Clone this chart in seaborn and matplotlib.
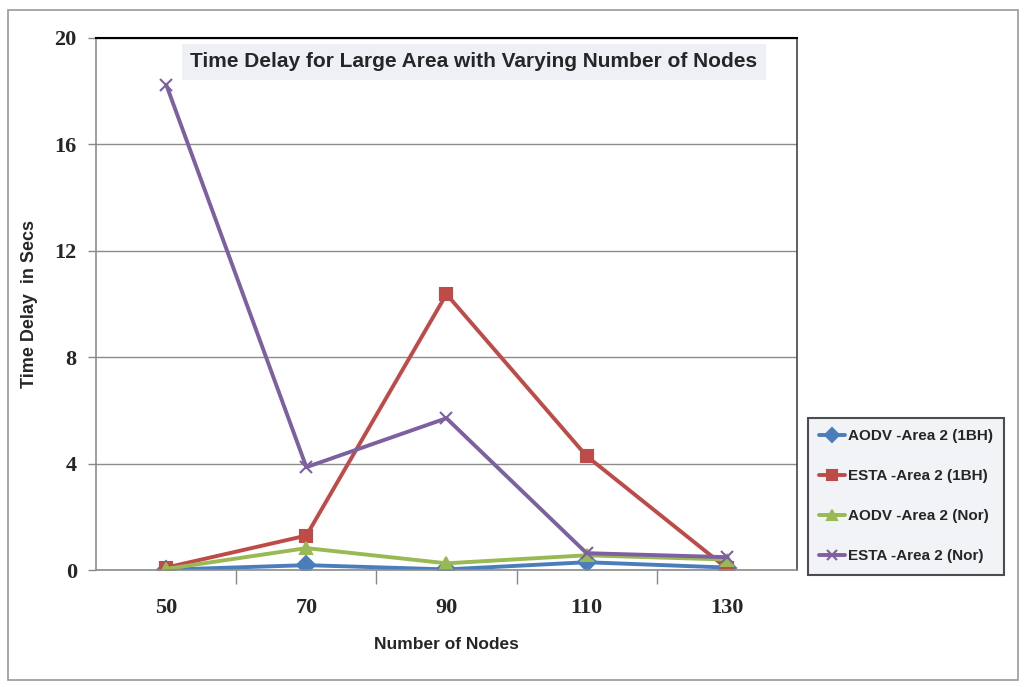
import pandas as pd
import matplotlib
matplotlib.use("Agg")
import matplotlib.pyplot as plt
import seaborn as sns

nodes = ["50", "70", "90", "110", "130"]
aodv_1bh = [0.02, 0.19, 0.03, 0.30, 0.10]
esta_1bh = [0.10, 1.30, 10.37, 4.29, 0.08]
aodv_nor = [0.05, 0.83, 0.26, 0.56, 0.40]
esta_nor = [18.23, 3.87, 5.71, 0.64, 0.49]

series_names = ["AODV -Area 2 (1BH)", "ESTA -Area 2 (1BH)",
                "AODV -Area 2 (Nor)", "ESTA -Area 2 (Nor)"]
colors = ["#4a7ebb", "#be4b48", "#98b954", "#7d60a0"]
markers = ["D", "s", "^", "x"]

sns.set_theme(style="white")
plt.rcParams["font.family"] = ["Liberation Sans", "DejaVu Sans"]

fig = plt.figure(figsize=(10.24, 6.87), dpi=100)
ax = fig.add_axes([0.094, 0.170, 0.684, 0.775])

for name, vals, c, m in zip(series_names, [aodv_1bh, esta_1bh, aodv_nor, esta_nor], colors, markers):
    d = pd.DataFrame({"Nodes": nodes, "Delay": vals})
    sns.lineplot(data=d, x="Nodes", y="Delay", color=c, marker=m, linewidth=2.8,
                 markersize=9, markeredgewidth=1.5, markeredgecolor=c,
                 sort=False, ax=ax, label=name)

ax.set_xlim(-0.5, 4.5)
ax.set_ylim(0, 20)
ax.set_yticks([0, 4, 8, 12, 16, 20])
ax.set_xticks([0.5, 1.5, 2.5, 3.5], minor=True)
ax.tick_params(axis="x", which="minor", bottom=True, length=10, width=1, color="#888888", direction="out")
ax.tick_params(axis="x", which="major", bottom=False, pad=14)
ax.tick_params(axis="y", left=True, length=6, width=1, color="#888888", pad=8)
for lab in ax.get_xticklabels() + ax.get_yticklabels():
    lab.set_fontfamily("Liberation Serif")
    lab.set_fontweight("bold")
    lab.set_fontsize(16)

ax.yaxis.grid(True, color="#8c8c8c", linewidth=1)
ax.set_axisbelow(True)
for s in ["left", "bottom"]:
    ax.spines[s].set_color("#8c8c8c")
    ax.spines[s].set_linewidth(1.2)
ax.spines["top"].set_color("black")
ax.spines["top"].set_linewidth(1.5)
ax.spines["right"].set_color("#444444")
ax.spines["right"].set_linewidth(1.2)

ax.set_xlabel("Number of Nodes", fontweight="bold", fontsize=12.5, labelpad=14)
ax.set_ylabel("Time Delay  in Secs", fontweight="bold", fontsize=13, labelpad=12)

ax.text(0.539, 0.955, "Time Delay for Large Area with Varying Number of Nodes",
        transform=ax.transAxes, ha="center", va="center",
        fontweight="bold", fontsize=15,
        bbox=dict(facecolor="#eef0f5", edgecolor="none", pad=6))

handles, labels = ax.get_legend_handles_labels()
ax.get_legend().remove()
leg = fig.legend(handles, labels, loc="upper left", bbox_to_anchor=(0.789, 0.392),
                 borderaxespad=0, frameon=True, fancybox=False,
                 edgecolor="#222222", facecolor="#eef0f5",
                 prop={"weight": "bold", "size": 11}, markerscale=0.8,
                 handlelength=1.7, handletextpad=0.15, labelspacing=1.7, borderpad=0.75)
leg.get_frame().set_linewidth(1.5)

fig.patches.append(plt.Rectangle((0.008, 0.010), 0.986, 0.975, transform=fig.transFigure,
                                 fill=False, edgecolor="#999999", linewidth=1.2))

fig.savefig("out.png", dpi=100)
